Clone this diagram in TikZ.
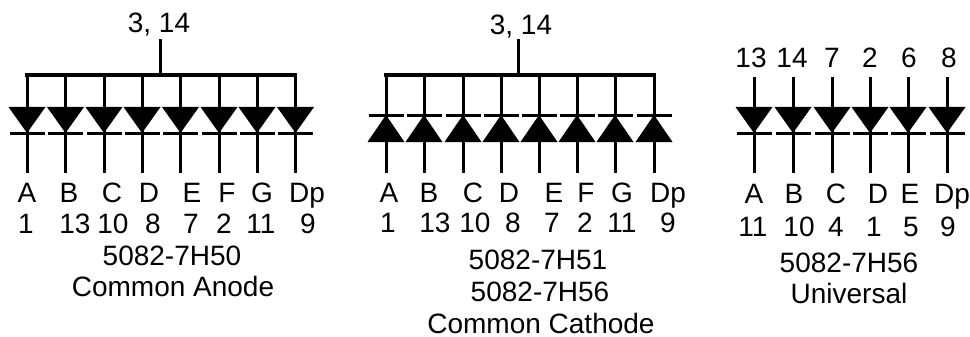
\documentclass[tikz,border=0pt]{standalone}
\usepackage{fontspec}
\setmainfont{Liberation Sans}
\tikzset{
  wire/.style={line width=3pt,black},
  bus/.style={line width=3.4pt,black,line cap=rect},
  bar/.style={line width=3pt,black},
  lbl/.style={anchor=base,inner sep=0pt,outer sep=0pt,font=\fontsize{28}{33}\selectfont,black},
}
% #1 prefix, #2 x, #3 top y of wire, #4 bottom y, #5 = triangle base y, #6 = apex/bar y
\newcommand{\diodeat}[6]{%
  \coordinate (#1t) at (#2,#3);
  \coordinate (#1b) at (#2,#4);
  \coordinate (#1base) at (#2,#5);
  \coordinate (#1apex) at (#2,#6);
  \draw[wire] (#1t) -- (#1b);
  \fill[black] ([xshift=-18.5pt]#1base) -- ([xshift=18.5pt]#1base) -- (#1apex) -- cycle;
  \draw[bar] ([xshift=-17.5pt]#1apex) -- ([xshift=17.5pt]#1apex);
}
\begin{document}
\begin{tikzpicture}[x=1pt,y=-1pt]
\useasboundingbox[fill=white] (0,0) rectangle (970,337);
% ---- Left: common anode
\foreach \n/\x in {1/27,2/65.5,3/104,4/142,5/180.5,6/219,7/257,8/295.5}
  {\diodeat{l\n}{\x}{75}{173}{107}{133}}
\node[lbl] (ltop) at (159,33) {3, 14};
\coordinate (lstemtop) at (160.5,39);
\coordinate (lstembot) at (160.5,75);
\draw[wire] (lstemtop) -- (lstembot);
\draw[bus] (l1t) -- (l8t);
\foreach \n/\x/\t in {a/27/A,b/69/B,c/112/C,d/149/D,e/192/E,f/227/F,g/262/G,h/307/Dp}
  \node[lbl] (ll\n) at (\x,202) {\t};
\foreach \n/\x/\t in {a/26/1,b/75/13,c/113/10,d/153/8,e/191/7,f/224/2,g/261/11,h/308/9}
  \node[lbl] (ln\n) at (\x,233) {\t};
\node[lbl] (lpart) at (172,265) {5082-7H50};
\node[lbl] (lname) at (173,296) {Common Anode};
% ---- Middle: common cathode
\foreach \n/\x in {1/386,2/424,3/463,4/501,5/539,6/577,7/615,8/654}
  {\diodeat{m\n}{\x}{75}{173}{142}{115}}
\node[lbl] (mtop) at (521,35) {3, 14};
\coordinate (mstemtop) at (518,39);
\coordinate (mstembot) at (518,75);
\draw[wire] (mstemtop) -- (mstembot);
\draw[bus] (m1t) -- (m8t);
\foreach \n/\x/\t in {a/389/A,b/429/B,c/473/C,d/509/D,e/554/E,f/586/F,g/622/G,h/668/Dp}
  \node[lbl] (ml\n) at (\x,202) {\t};
\foreach \n/\x/\t in {a/388/1,b/435/13,c/475/10,d/513/8,e/552/7,f/585/2,g/622/11,h/668/9}
  \node[lbl] (mn\n) at (\x,232) {\t};
\node[lbl] (mparta) at (538,269) {5082-7H51};
\node[lbl] (mpartb) at (540,301) {5082-7H56};
\node[lbl] (mname) at (541,333) {Common Cathode};
% ---- Right: universal
\foreach \n/\x in {1/754,2/793,3/832,4/870,5/908,6/947}
  {\diodeat{r\n}{\x}{77}{173}{107}{133}}
\foreach \n/\x/\t in {a/751/13,b/792/14,c/832/7,d/870/2,e/909/6,f/949/8}
  \node[lbl] (rt\n) at (\x,67) {\t};
\foreach \n/\x/\t in {a/754/A,b/794/B,c/836/C,d/878/D,e/910/E,f/952/Dp}
  \node[lbl] (rl\n) at (\x,203) {\t};
\foreach \n/\x/\t in {a/753/11,b/799/10,c/836/4,d/874/1,e/911/5,f/948/9}
  \node[lbl] (rn\n) at (\x,236) {\t};
\node[lbl] (rpart) at (849,272) {5082-7H56};
\node[lbl] (rname) at (849,303) {Universal};
\end{tikzpicture}
\end{document}
